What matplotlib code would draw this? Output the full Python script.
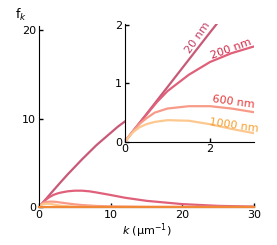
import matplotlib
matplotlib.use('Agg')
import matplotlib.pyplot as plt

plt.rcParams['font.family'] = 'DejaVu Sans'
plt.rcParams['mathtext.fontset'] = 'dejavusans'

# values
k_20 = [0, 0.5, 1, 1.5, 2, 2.5, 3, 4, 5, 6, 7, 8, 9, 10, 11, 12, 14, 17, 20, 25, 30]
f_20 = [0, 0.47, 0.94, 1.41, 1.88, 2.34, 2.8, 3.7, 4.55, 5.4, 6.2, 7.0, 7.7, 8.4, 9.1, 9.7, 10.9, 12.5, 14.0, 16.0, 17.5]

k_200 = [0, 0.25, 0.5, 0.75, 1, 1.5, 2, 2.5, 3, 4, 5, 6, 7, 8, 10, 12, 15, 20, 25, 30]
f_200 = [0, 0.24, 0.46, 0.68, 0.87, 1.15, 1.37, 1.52, 1.63, 1.78, 1.85, 1.85, 1.78, 1.65, 1.36, 1.05, 0.7, 0.33, 0.13, 0.05]

k_600 = [0, 0.1, 0.2, 0.35, 0.5, 0.7, 1, 1.5, 2, 2.5, 3, 4, 5, 6, 8, 10, 15, 20, 30]
f_600 = [0, 0.1, 0.19, 0.31, 0.4, 0.5, 0.57, 0.61, 0.61, 0.57, 0.51, 0.4, 0.3, 0.22, 0.12, 0.07, 0.02, 0.01, 0]

k_1000 = [0, 0.1, 0.2, 0.35, 0.5, 0.7, 1, 1.5, 2, 2.5, 3, 4, 5, 6, 8, 10, 15, 20, 30]
f_1000 = [0, 0.09, 0.17, 0.25, 0.3, 0.34, 0.37, 0.36, 0.3, 0.22, 0.15, 0.08, 0.04, 0.02, 0.01, 0, 0, 0, 0]

k_flat = [0, 30]
f_flat = [0, 0]

series = [
    (k_20, f_20, '#c85a78', '20 nm', '#c33c66'),
    (k_200, f_200, '#e0607a', '200 nm', '#d42a48'),
    (k_600, f_600, '#f89a88', '600 nm', '#e63a3a'),
    (k_1000, f_1000, '#fdc890', '1000 nm', '#f5a030'),
]

fs = 8
lw = 1.6

fig = plt.figure(figsize=(2.77, 2.45), dpi=100)
ax = fig.add_axes([0.141, 0.155, 0.776, 0.739])

for k, f, c, lab, tc in series:
    ax.plot(k, f, color=c, linewidth=lw, solid_joinstyle='round')
ax.plot(k_flat, f_flat, color='#f08838', linewidth=lw, clip_on=False, zorder=3)

ax.set_xlim(0, 30)
ax.set_ylim(0, 20.5)
ax.set_xticks([0, 10, 20, 30])
ax.set_yticks([0, 10, 20])
for s in ['top', 'right']:
    ax.spines[s].set_visible(False)
ax.tick_params(direction='in', length=3, width=1, labelsize=fs, pad=2)
ax.set_xlabel('$k$ (μm$^{-1}$)', fontsize=fs, labelpad=1)
fig.text(0.055, 0.94, 'f$_k$', fontsize=fs + 1, ha='left', va='center')

# inset
ins = fig.add_axes([0.451, 0.4216, 0.466, 0.48])
for k, f, c, lab, tc in series:
    ins.plot(k, f, color=c, linewidth=lw, solid_joinstyle='round')
ins.set_xlim(0, 3.03)
ins.set_ylim(0, 2.02)
ins.set_xticks([0, 2])
ins.set_yticks([0, 1, 2])
for s in ['top', 'right']:
    ins.spines[s].set_visible(False)
ins.tick_params(direction='in', length=3, width=1, labelsize=fs, pad=2)

label_pos = [(1.72, 1.78, 55), (2.5, 1.6, 20), (2.55, 0.68, -8), (2.55, 0.28, -8)]
for (k, f, c, lab, tc), (x, y, r) in zip(series, label_pos):
    ins.text(x, y, lab, color=tc, fontsize=fs, rotation=r, ha='center', va='center')

fig.savefig('out.png', dpi=100)
